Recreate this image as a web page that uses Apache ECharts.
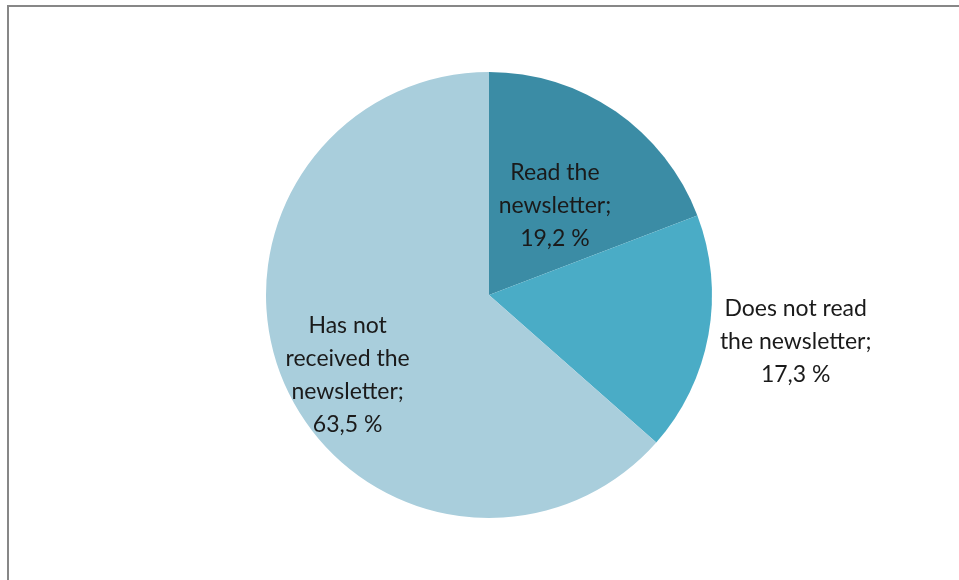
<!DOCTYPE html>
<html>
<head>
<meta charset="utf-8">
<script src="https://cdn.jsdelivr.net/npm/echarts@6/dist/echarts.min.js"></script>
<style>
  html, body { margin: 0; padding: 0; background: #ffffff; }
  #chart { width: 959px; height: 580px; }
</style>
</head>
<body>
<div id="chart"></div>
<script>
// Newsletter readership shares (percent)
const categories = ['Read the\nnewsletter;', 'Does not read\nthe newsletter;', 'Has not\nreceived the\nnewsletter;'];
const shares = [19.2, 17.3, 63.5];
const sliceColors = ['#3b8ca5', '#4aacc6', '#a9cedc'];

const chart = echarts.init(document.getElementById('chart'), null, { renderer: 'canvas' });

// Nudges applied to the inside label positions
const labelShift = [
  { dx: 1, dy: 5 },
  { dx: 194, dy: 26 },
  { dx: -37, dy: 33 }
];

chart.setOption({
  animation: false,
  graphic: [{
    type: 'rect',
    shape: { x: 8, y: 6, width: 1200, height: 1200 },
    style: { fill: null, stroke: '#878787', lineWidth: 2 },
    silent: true
  }],
  series: [{
    type: 'pie',
    center: [489, 295],
    radius: [0, 223],
    startAngle: 90,
    clockwise: true,
    avoidLabelOverlap: false,
    data: categories.map((name, i) => ({
      name: name,
      value: shares[i],
      itemStyle: { color: sliceColors[i] }
    })),
    itemStyle: { borderWidth: 0 },
    label: {
      show: true,
      position: 'inside',
      formatter: p => p.name + '\n' + p.value.toFixed(1).replace('.', ',') + ' %',
      fontFamily: 'Lato',
      fontSize: 23,
      lineHeight: 33,
      color: '#1a1a1a',
      align: 'center'
    },
    labelLine: { show: false },
    labelLayout: function (params) {
      const s = labelShift[params.dataIndex];
      return { dx: s.dx, dy: s.dy };
    }
  }]
});
</script>
</body>
</html>
